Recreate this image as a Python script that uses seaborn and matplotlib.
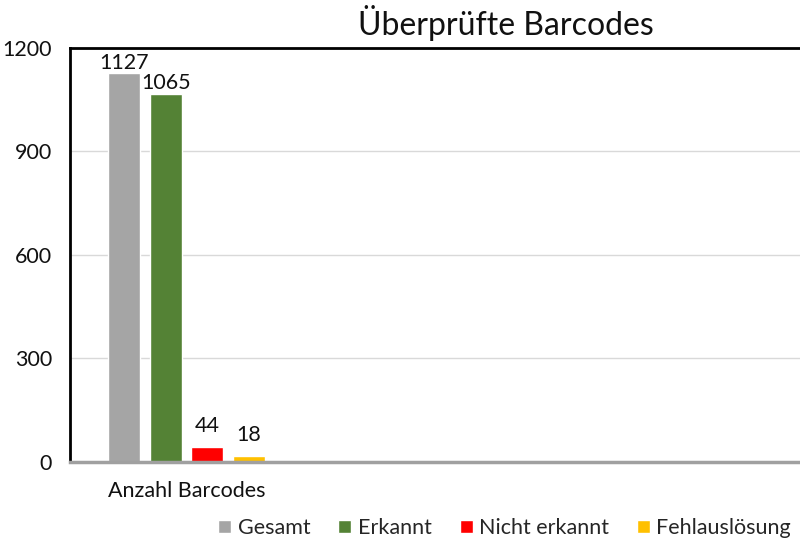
import pandas as pd
import matplotlib
matplotlib.use('Agg')
import matplotlib.pyplot as plt
import seaborn as sns

category = ["Anzahl Barcodes"]
series = ["Gesamt", "Erkannt", "Nicht erkannt", "Fehlauslösung"]
values = [1127, 1065, 44, 18]
colors = ["#A5A5A5", "#548235", "#FF0000", "#FFC000"]

df = pd.DataFrame({"Kategorie": category * len(series), "Serie": series, "Wert": values})

sns.set_theme(style="white")
plt.rcParams['font.family'] = ['Lato', 'DejaVu Sans']

fig = plt.figure(figsize=(8, 5.5), dpi=100)
ax = fig.add_axes([0.0875, 0.16, 0.9125, 0.753])

sns.barplot(data=df, x="Kategorie", y="Wert", hue="Serie", palette=colors,
            saturation=1, width=0.8, gap=0.23, ax=ax, legend=True)

# labels: the tall bars sit tight under the top line, the short ones have more room
pads = [0, 1, 8, 8]
for cont, pad in zip(ax.containers, pads):
    ax.bar_label(cont, padding=pad, fontsize=15.5, color="#111111")

ax.set_ylim(0, 1200)
ax.set_yticks([0, 300, 600, 900, 1200])
ax.set_xlim(-0.561, 2.957)
ax.yaxis.grid(True, color="#D9D9D9", linewidth=1)
ax.set_axisbelow(True)
ax.tick_params(axis='y', length=0, pad=13, labelsize=15.5, labelcolor="#111111")
ax.tick_params(axis='x', length=0, pad=14, labelsize=15.5, labelcolor="#111111")
ax.set_xlabel("")
ax.set_ylabel("")

for side in ["left", "top"]:
    ax.spines[side].set_color("black")
    ax.spines[side].set_linewidth(2)
ax.spines["right"].set_visible(False)
ax.spines["bottom"].set_color("#A0A0A0")
ax.spines["bottom"].set_linewidth(2.5)

fig.text(0.632, 0.958, "Überprüfte Barcodes", ha="center", va="center",
         fontsize=23, color="#111111")

leg = ax.get_legend()
handles, labels = ax.get_legend_handles_labels()
leg.remove()
fig.legend(handles, labels, loc="center right", bbox_to_anchor=(1.013, 0.04),
           ncol=4, frameon=False, fontsize=15.5, handlelength=0.6, handleheight=0.6,
           handletextpad=0.3, columnspacing=1.3)

fig.savefig("out.png", dpi=100)
